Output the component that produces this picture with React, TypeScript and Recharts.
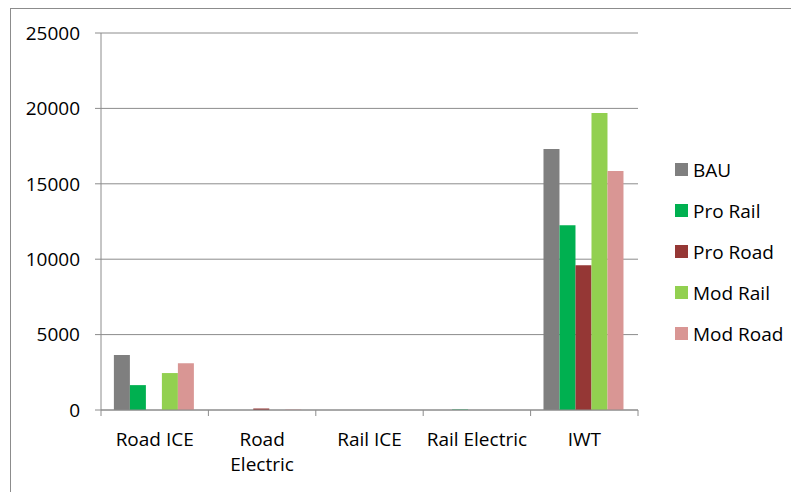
import React from "react";
import { BarChart, Bar, XAxis, YAxis, CartesianGrid } from "recharts";

const categories = ["Road ICE", "Road Electric", "Rail ICE", "Rail Electric", "IWT"];
const categoryTickLines = [["Road ICE"], ["Road", "Electric"], ["Rail ICE"], ["Rail Electric"], ["IWT"]];

const seriesNames = ["BAU", "Pro Rail", "Pro Road", "Mod Rail", "Mod Road"];
const seriesColors = ["#7f7f7f", "#00b050", "#953735", "#92d050", "#d99694"];

const bau = [3650, 0, 0, 0, 17300];
const proRail = [1650, 0, 0, 30, 12250];
const proRoad = [0, 100, 0, 0, 9600];
const modRail = [2450, 0, 0, 0, 19700];
const modRoad = [3100, 30, 0, 0, 15850];

const yTicks = [0, 5000, 10000, 15000, 20000, 25000];

const seriesValues = [bau, proRail, proRoad, modRail, modRoad];

const data = categories.map((name, i) => {
  const row: Record<string, string | number> = { name };
  seriesNames.forEach((s, j) => {
    row[s] = seriesValues[j][i];
  });
  return row;
});

const CHART_W = 791;
const CHART_H = 484;
const MARGIN = { top: 25, right: 161, bottom: 22, left: 0 };
const Y_AXIS_W = 93;
const X_AXIS_H = 60;
const FONT = "'Open Sans', sans-serif";
const AXIS_GRAY = "#8c8c8c";

const bandWidth = (CHART_W - MARGIN.left - MARGIN.right - Y_AXIS_W) / categories.length;

function CategoryTick(props: any) {
  const { x, y, index } = props;
  const lines = categoryTickLines[index] || [String(props.payload.value)];
  const isLast = index === categories.length - 1;
  return (
    <g>
      <line x1={x - bandWidth / 2} x2={x - bandWidth / 2} y1={y} y2={y + 6} stroke={AXIS_GRAY} />
      {isLast && <line x1={x + bandWidth / 2} x2={x + bandWidth / 2} y1={y} y2={y + 6} stroke={AXIS_GRAY} />}
      <text x={x} y={y + 36} textAnchor="middle" fill="#000" fontSize={19} fontFamily={FONT}>
        {lines.map((l: string, i: number) => (
          <tspan key={i} x={x} dy={i === 0 ? 0 : 25}>
            {l}
          </tspan>
        ))}
      </text>
    </g>
  );
}

export default function App() {
  return (
    <div style={{ position: "relative", width: CHART_W, height: CHART_H, fontFamily: FONT }}>
      <div
        style={{
          position: "absolute",
          left: 2,
          top: 0,
          right: -10,
          bottom: -10,
          borderLeft: `1px solid ${AXIS_GRAY}`,
          borderTop: `1px solid ${AXIS_GRAY}`,
        }}
      />
      <div style={{ position: "absolute", left: 0, top: 0 }}>
        <BarChart width={CHART_W} height={CHART_H} data={data} margin={MARGIN} barCategoryGap="12%" barGap={0}>
          <CartesianGrid vertical={false} stroke={AXIS_GRAY} strokeWidth={1} />
          <XAxis
            dataKey="name"
            height={X_AXIS_H}
            axisLine={{ stroke: AXIS_GRAY }}
            tickLine={false}
            tickSize={0}
            tickMargin={0}
            interval={0}
            tick={<CategoryTick />}
          />
          <YAxis
            width={Y_AXIS_W}
            domain={[0, 25000]}
            ticks={yTicks}
            interval={0}
            axisLine={{ stroke: AXIS_GRAY }}
            tickLine={{ stroke: AXIS_GRAY }}
            tickSize={6}
            tickMargin={15}
            tick={{ fill: "#000", fontSize: 19, fontFamily: FONT }}
          />
          {seriesNames.map((s, i) => (
            <Bar key={s} dataKey={s} fill={seriesColors[i]} isAnimationActive={false} />
          ))}
        </BarChart>
      </div>
      <div style={{ position: "absolute", left: 667, top: 141 }}>
        {seriesNames.map((s, i) => (
          <div key={s} style={{ display: "flex", alignItems: "center", height: 41 }}>
            <div style={{ width: 13, height: 13, background: seriesColors[i], marginRight: 5 }} />
            <span style={{ fontSize: 19, color: "#000", whiteSpace: "nowrap" }}>{s}</span>
          </div>
        ))}
      </div>
    </div>
  );
}
